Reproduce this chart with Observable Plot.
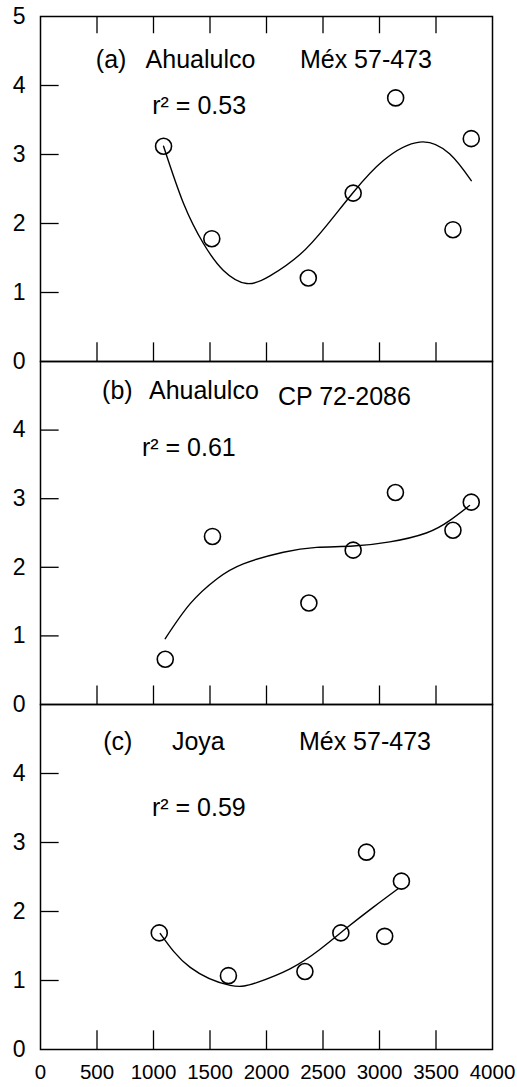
<!DOCTYPE html>
<html><head><meta charset="utf-8">
<script src="https://cdn.jsdelivr.net/npm/d3@7"></script>
<script src="https://cdn.jsdelivr.net/npm/@observablehq/plot@0.6"></script>
<style>
body{margin:0;background:#fff;}
#wrap{position:relative;width:517px;height:1087px;overflow:hidden;}
#wrap svg{position:absolute;left:0;overflow:visible;}
</style>
</head><body><div id="wrap"></div>
<script>
// ---- data ----
const xTicks = [0, 500, 1000, 1500, 2000, 2500, 3000, 3500, 4000];
const xInnerTicks = [500, 1000, 1500, 2000, 2500, 3000, 3500];
const yInnerTicks = [1, 2, 3, 4];
const yLabelsTop = [0, 1, 2, 3, 4, 5];
const yLabelsLower = [0, 1, 2, 3, 4];

const panelTags = ["(a)", "(b)", "(c)"];
const sites = ["Ahualulco", "Ahualulco", "Joya"];
const cultivars = ["Méx 57-473", "CP 72-2086", "Méx 57-473"];
const r2Text = ["r² = 0.53", "r² = 0.61", "r² = 0.59"];

const aX = [1089, 1516, 2370, 2767, 3143, 3650, 3812];
const aY = [3.12, 1.78, 1.21, 2.44, 3.82, 1.91, 3.23];
const aFitX = [1089, 1266, 1442, 1619, 1825, 2031, 2296, 2531, 2767, 3032, 3355, 3620, 3812];
const aFitY = [3.12, 2.29, 1.71, 1.32, 1.13, 1.24, 1.55, 1.97, 2.45, 2.91, 3.18, 3.01, 2.62];

const bX = [1104, 1522, 2375, 2767, 3141, 3650, 3812];
const bY = [0.66, 2.45, 1.48, 2.25, 3.09, 2.54, 2.95];
const bFitX = [1104, 1325, 1560, 1795, 2149, 2443, 2767, 3091, 3414, 3620, 3797];
const bFitY = [0.96, 1.47, 1.83, 2.05, 2.22, 2.29, 2.31, 2.37, 2.50, 2.68, 2.90];

const cX = [1051, 1663, 2340, 2658, 2885, 3046, 3194];
const cY = [1.69, 1.07, 1.13, 1.69, 2.86, 1.64, 2.44];
const cFitX = [1060, 1325, 1678, 1913, 2208, 2472, 2708, 2943, 3164];
const cFitY = [1.68, 1.19, 0.93, 0.97, 1.17, 1.45, 1.76, 2.06, 2.33];

// ---- layout (positions of panels and annotations) ----
const layout = [
  {top: 0,   mt: 16, mb: 10, h: 345, yLabels: yLabelsTop,   topTicks: true,  xAxis: false,
   tag: [490, 4.37], site: [930, 4.37], cult: [2296, 4.37], r2: [989, 3.71]},
  {top: 351, mt: 10, mb: 10, h: 343, yLabels: yLabelsLower, topTicks: false, xAxis: false,
   tag: [545, 4.57], site: [960, 4.57], cult: [2101, 4.48], r2: [898, 3.74]},
  {top: 694, mt: 10, mb: 38, h: 345, yLabels: yLabelsLower, topTicks: false, xAxis: true,
   tag: [555, 4.46], site: [1163, 4.46], cult: [2287, 4.46], r2: [986, 3.50]}
];
const series = [[aX, aY, aFitX, aFitY], [bX, bY, bFitX, bFitY], [cX, cY, cFitX, cFitY]];

const font = "'Liberation Sans', Arial, Helvetica, sans-serif";
const wrap = document.getElementById("wrap");

layout.forEach((L, i) => {
  const [px, py, fx, fy] = series[i];
  const pts = px.map((x, k) => ({x, y: py[k]}));
  const fit = fx.map((x, k) => ({x, y: fy[k]}));
  const ann = [
    {x: L.tag[0], y: L.tag[1], t: panelTags[i]},
    {x: L.site[0], y: L.site[1], t: sites[i]},
    {x: L.cult[0], y: L.cult[1], t: cultivars[i]},
    {x: L.r2[0], y: L.r2[1], t: r2Text[i]}
  ];
  const marks = [
    Plot.frame({stroke: "black", strokeWidth: 1.5}),
    Plot.ruleX(xInnerTicks, {x: d => d, y1: () => 0, y2: () => 0.27, stroke: "black", strokeWidth: 1.3}),
    Plot.ruleY(yInnerTicks, {y: d => d, x1: () => 0, x2: () => 165, stroke: "black", strokeWidth: 1.3}),
    Plot.axisY(L.yLabels, {anchor: "left", tickSize: 0, tickPadding: 15, fontSize: 23, fill: "black", tickFormat: d => String(d), label: null}),
    Plot.line(fit, {x: "x", y: "y", curve: "natural", stroke: "black", strokeWidth: 1.4}),
    Plot.dot(pts, {x: "x", y: "y", r: 8, stroke: "black", strokeWidth: 1.6, fill: "none"}),
    Plot.text(ann, {x: "x", y: "y", text: "t", textAnchor: "start", lineAnchor: "middle", fontSize: 25, fill: "black"})
  ];
  if (L.topTicks) marks.push(Plot.ruleX(xInnerTicks, {x: d => d, y1: () => 5, y2: () => 4.75, stroke: "black", strokeWidth: 1.3}));
  if (L.xAxis) marks.push(Plot.axisX(xTicks, {anchor: "bottom", tickSize: 0, tickPadding: 15, fontSize: 20.5, fill: "black", tickFormat: d => String(d), label: null}));
  const chart = Plot.plot({
    width: 517,
    height: L.mt + L.h + L.mb,
    marginLeft: 40, marginRight: 25, marginTop: L.mt, marginBottom: L.mb,
    x: {domain: [0, 4000], axis: L.xAxis ? undefined : null},
    y: {domain: [0, 5]},
    style: {background: "transparent", overflow: "visible", fontFamily: font, color: "black"},
    marks
  });
  chart.style.top = L.top + "px";
  wrap.appendChild(chart);
});
</script>
</body></html>
